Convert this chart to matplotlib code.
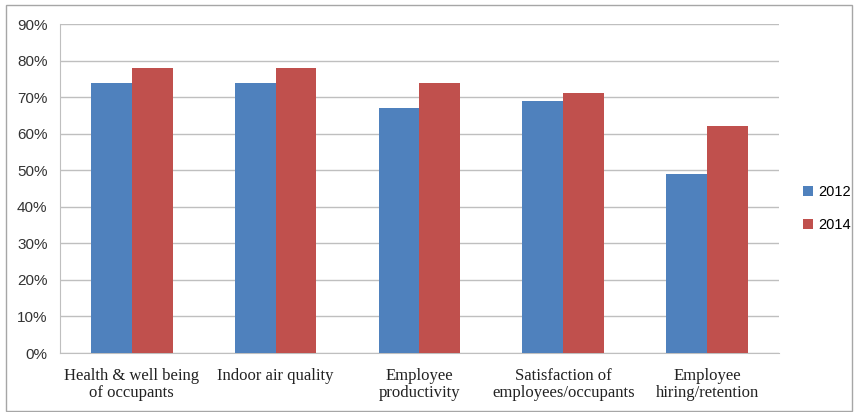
import numpy as np
import matplotlib.pyplot as plt
from matplotlib.patches import Rectangle
from matplotlib.ticker import PercentFormatter

categories = ['Health & well being\nof occupants', 'Indoor air quality',
              'Employee\nproductivity', 'Satisfaction of\nemployees/occupants',
              'Employee\nhiring/retention']
years = ['2012', '2014']
vals_2012 = [74, 74, 67, 69, 49]
vals_2014 = [78, 78, 74, 71, 62]
colors = ['#4F81BD', '#C0504D']

fig = plt.figure(figsize=(8.59, 4.12), dpi=100)
ax = fig.add_axes([0.0698, 0.1432, 0.837, 0.7985])

x = np.arange(len(categories))
w = 0.284
ax.bar(x - w / 2, vals_2012, w, color=colors[0], label=years[0], zorder=3)
ax.bar(x + w / 2, vals_2014, w, color=colors[1], label=years[1], zorder=3)

ax.set_xlim(-0.5, len(categories) - 0.5)
ax.set_ylim(0, 90)
ax.set_yticks(range(0, 91, 10))
ax.yaxis.set_major_formatter(PercentFormatter(decimals=0))
ax.grid(axis='y', color='#BFBFBF', linewidth=1, zorder=0)
ax.set_xticks(x)
ax.set_xticklabels(categories, family='Liberation Serif', fontsize=12, color='#222222',
                   linespacing=1.05)
ax.tick_params(axis='x', length=0, pad=11)
ax.tick_params(axis='y', length=0, pad=9, labelsize=11, labelcolor='#333333')
for lbl in ax.get_yticklabels():
    lbl.set_family('Liberation Sans')
for s in ['top', 'right']:
    ax.spines[s].set_visible(False)
ax.spines['left'].set_color('#BFBFBF')
ax.spines['bottom'].set_color('#BFBFBF')

h, l = ax.get_legend_handles_labels()
fig.legend(h, l, loc='center left', bbox_to_anchor=(0.92, 0.494), frameon=False,
           prop={'family': 'Liberation Sans', 'size': 10.5}, handlelength=0.65,
           handleheight=0.65, handletextpad=0.35, labelspacing=1.3)

fig.patches.append(Rectangle((6 / 859, 1 / 412), 846 / 859, 406 / 412, transform=fig.transFigure,
                             fill=False, edgecolor='#A6A6A6', linewidth=1))

fig.savefig('out.png', dpi=100)
